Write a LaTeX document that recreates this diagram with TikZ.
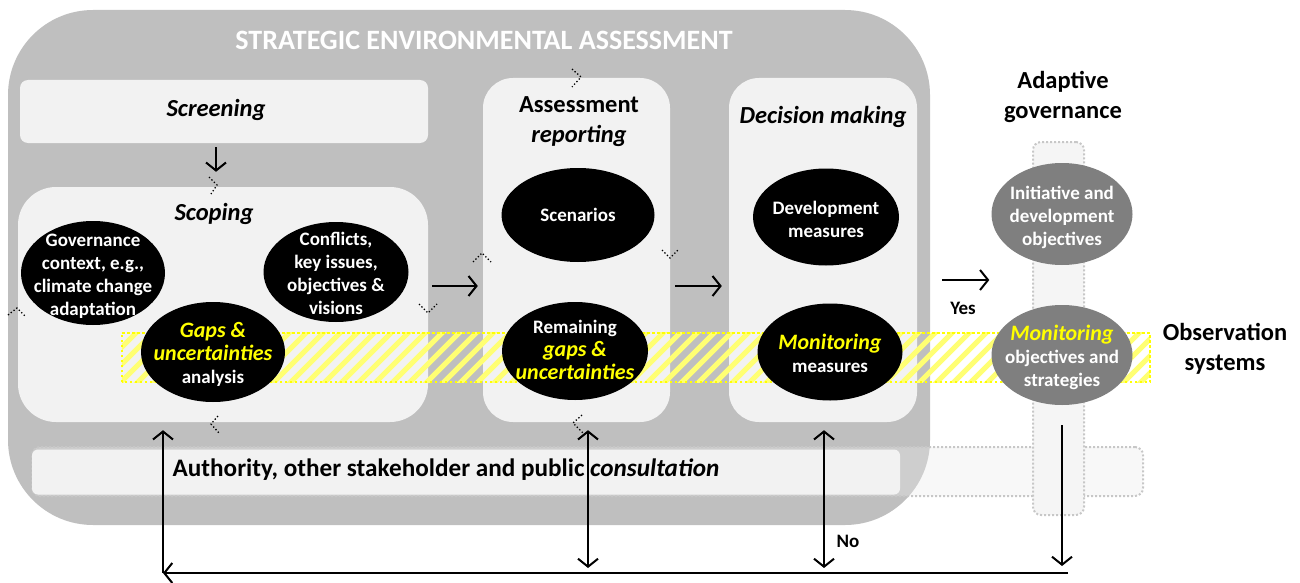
\documentclass[tikz,border=0pt]{standalone}
\usepackage{fontspec}
\setmainfont{Carlito}
\usetikzlibrary{arrows.meta,shapes.geometric,calc}
\definecolor{seagray}{HTML}{BFBFBF}
\definecolor{boxgray}{HTML}{F2F2F2}
\definecolor{ellgray}{HTML}{7F7F7F}
\definecolor{hyellow}{HTML}{FFFF00}
\newcommand\myEll{\bfseries\fontsize{19}{23}\selectfont}
\newcommand\myHead{\bfseries\fontsize{24.5}{30}\selectfont}
\newcommand\myYel[1]{\textcolor{hyellow}{\fontsize{22}{25}\selectfont\itshape #1}}
\begin{document}
\begin{tikzpicture}[x=1pt,y=-1pt,
  box/.style={rectangle, fill=boxgray, draw=none, inner sep=0pt},
  ell/.style={ellipse, fill=black, inner sep=0pt},
  gell/.style={ellipse, fill=ellgray, inner sep=0pt},
  etext/.style={text=white, inner sep=0pt, align=center, font=\myEll},
  head/.style={font=\myHead, align=center, inner sep=0pt},
  arr/.style={line width=2pt, -{Straight Barb[length=8pt,width=20pt]}},
  darr/.style={line width=2pt, {Straight Barb[length=8pt,width=20pt]}-{Straight Barb[length=8pt,width=20pt]}},
  chev/.style={line width=1.3pt, dash pattern=on 1.3pt off 2.2pt},
  gdot/.style={draw=black!22, line width=2pt, dash pattern=on 2pt off 2pt}]
\useasboundingbox (0,0) rectangle (1300,583);

% SEA background
\node[fill=seagray, rounded corners=85pt, minimum width=922pt, minimum height=515pt, inner sep=0pt] (sea) at (469,267.5) {};
\node[font=\bfseries\fontsize{28}{33}\selectfont, text=white, inner sep=0pt] (title) at (484,40) {STRATEGIC ENVIRONMENTAL ASSESSMENT};

% consultation band
\node[gdot, fill=black!8, fill opacity=0.35, rounded corners=8pt, minimum width=1111pt, minimum height=49pt, inner sep=0pt] (consout) at (587.5,471.5) {};
\node[box, rounded corners=6pt, minimum width=868pt, minimum height=45pt] (cons) at (466,472) {};
\node[font=\bfseries\fontsize{25.2}{30}\selectfont, inner sep=0pt] (constext) at (446,470) {Authority, other stakeholder and public \textit{consultation}};

% adaptive governance column
\node[gdot, fill=black!4, rounded corners=8pt, minimum width=51pt, minimum height=373pt, inner sep=0pt] (col) at (1058.5,328.5) {};
\node[head] (adapt) at (1063,97) {Adaptive\\governance};
\node[head] (obs) at (1225,349) {Observation\\systems};

% boxes
\node[box, rounded corners=8pt, minimum width=408pt, minimum height=63pt] (screen) at (224,111.5) {};
\node[head] (screentext) at (216,110) {\itshape Screening};
\node[box, rounded corners=38pt, minimum width=410pt, minimum height=235pt] (scoping) at (223,304.5) {};
\node[head] (scopetext) at (214,214) {\itshape Scoping};
\node[box, rounded corners=30pt, minimum width=187pt, minimum height=344pt] (assess) at (576.5,250) {};
\node[head] (assesstext) at (579,122) {Assessment\\\itshape reporting};
\node[box, rounded corners=30pt, minimum width=188pt, minimum height=344pt] (decision) at (823,250) {};
\node[head] (dectext) at (823,117) {\itshape Decision making};

% hatched observation band
\node[inner sep=0pt, minimum width=1028pt, minimum height=49pt] (band) at (636,357.5) {};
\begin{scope}
  \clip (band.south west) rectangle (band.north east);
  \foreach \i in {0,17,...,1100}
    \draw[line width=5pt, hyellow!55] (62+\i,390) -- ++(70,-70);
\end{scope}
\draw[hyellow, line width=2.5pt, dash pattern=on 2.5pt off 2.5pt] (band.south west) rectangle (band.north east);

% ellipses
\node[ell, minimum width=144pt, minimum height=104pt] (gov) at (93,273) {};
\node[etext] (govt) at (93,276) {Governance\\context, e.g.,\\climate change\\adaptation};
\node[ell, minimum width=145pt, minimum height=100pt] (conf) at (336,272) {};
\node[etext] (conft) at (336,273) {Conflicts,\\key issues,\\objectives \&\\visions};
\node[ell, minimum width=144pt, minimum height=100pt] (gaps) at (213,352) {};
\node[etext] (gapst) at (213,354) {\myYel{Gaps \&}\\\myYel{uncertainties}\\analysis};
\node[ell, minimum width=153pt, minimum height=94pt] (scen) at (578,215) {};
\node[etext] (scent) at (scen) {Scenarios};
\node[ell, minimum width=146pt, minimum height=98pt] (rem) at (575,351) {};
\node[etext] (remt) at (575,350) {Remaining\\\myYel{gaps \&}\\\myYel{uncertainties}};
\node[ell, minimum width=146pt, minimum height=97pt] (dev) at (826,217) {};
\node[etext] (devt) at (826,219) {Development\\measures};
\node[ell, minimum width=145pt, minimum height=97pt] (mon) at (830,352) {};
\node[etext] (mont) at (830,353) {\myYel{Monitoring}\\measures};
\node[gell, minimum width=141pt, minimum height=102pt] (init) at (1062,214) {};
\node[etext] (initt) at (1062,217) {Initiative and\\development\\objectives};
\node[gell, minimum width=141pt, minimum height=100pt] (monobj) at (1062,355) {};
\node[etext] (monobjt) at (1062,357) {\myYel{Monitoring}\\objectives and\\strategies};

% arrows
\coordinate (ay) at (0,286);
\coordinate (yy) at (0,280);
\draw[arr] ([yshift=-4pt]screen.south -| 216,0) -- ([yshift=15pt]scoping.north -| 216,0);
\draw[arr, shorten <=4pt, shorten >=5pt] (scoping.east |- ay) -- (assess.west |- ay);
\draw[arr, shorten <=5pt, shorten >=7pt] (assess.east |- ay) -- (decision.west |- ay);
\draw[arr, shorten <=25pt, shorten >=2pt] (decision.east |- yy) -- (init.west |- yy);
\node[font=\bfseries\fontsize{19}{23}\selectfont, inner sep=0pt] (yes) at (963,308) {Yes};

\coordinate (bl) at (163,573);
\coordinate (br) at (1068,573);
\coordinate (c2) at (588,568);
\coordinate (c3) at (824,568);
\coordinate (c4) at (1062,566);
\draw[arr] (br) -- (bl);
\draw[arr] (bl) -- ([yshift=-8pt]scoping.south -| bl);
\draw[darr] (c2) -- ([yshift=-8pt]assess.south -| c2);
\draw[darr] (c3) -- ([yshift=-8pt]decision.south -| c3);
\draw[arr] ([yshift=-20pt]monobj.south) -- (monobj.south |- c4);
\node[font=\bfseries\fontsize{19}{23}\selectfont, inner sep=0pt] (no) at (848,541) {No};

% small dotted chevrons
\draw[chev] (8,315) -- (17,308) -- (25,316);
\draw[chev] (209,177) -- (217,185) -- (211,194);
\draw[chev] (419,304) -- (428,313) -- (437,304);
\draw[chev] (473,262) -- (482,253) -- (491,262);
\draw[chev] (572,69) -- (581,77) -- (572,87);
\draw[chev] (662,250) -- (670,258) -- (679,249);
\draw[chev] (218,416) -- (211,424) -- (219,433);
\draw[chev] (582,415) -- (573,423) -- (583,433);
\end{tikzpicture}
\end{document}
